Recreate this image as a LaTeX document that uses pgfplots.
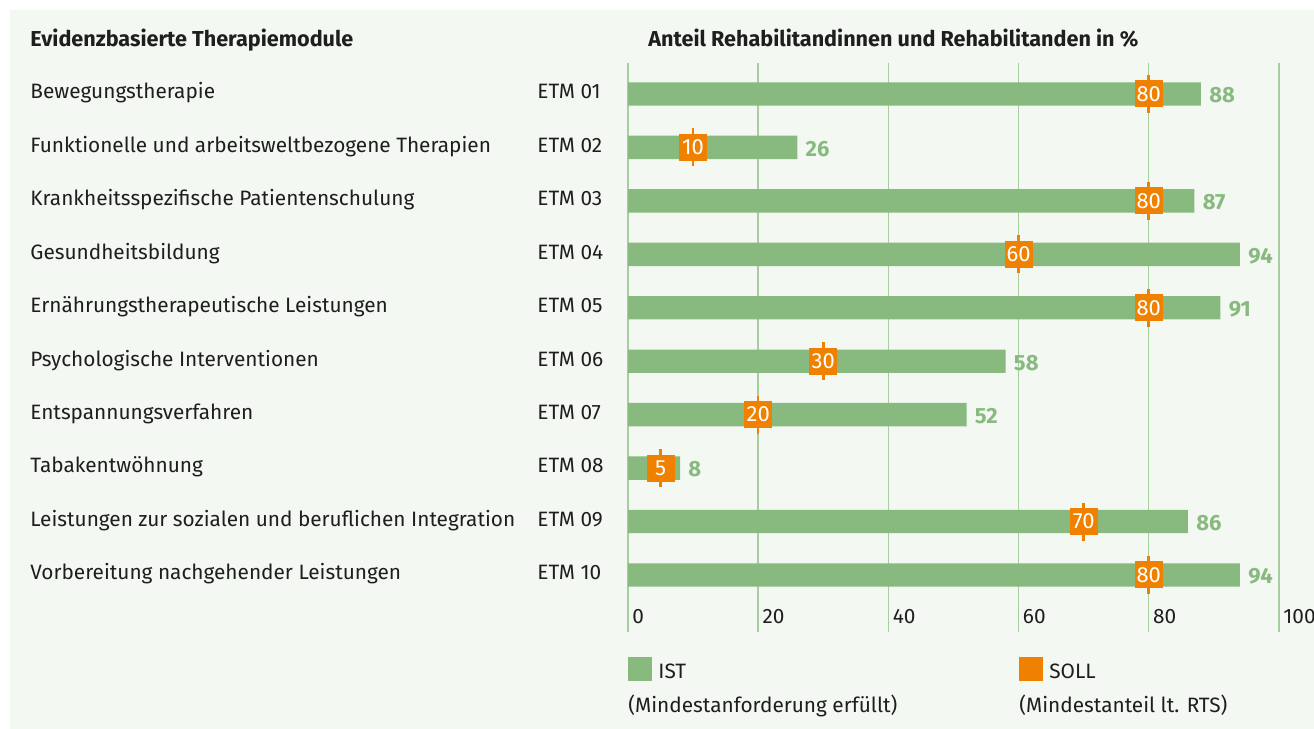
\documentclass[border=0pt]{standalone}
\usepackage{pgfplots}
\pgfplotsset{compat=1.18}
\usepackage{fontspec}
\setmainfont{Fira Sans}
\definecolor{bg}{HTML}{F3F8F2}
\definecolor{istgreen}{HTML}{88BA7F}
\definecolor{sollorange}{HTML}{F08100}
\definecolor{gridc}{HTML}{A8CEA0}
\definecolor{txt}{HTML}{1E1E1E}
\newcommand\bodyfont{\fontsize{10.4pt}{12pt}\selectfont}
\newcommand\numfont{\fontsize{11pt}{12pt}\selectfont}
\newcommand\headfont{\fontsize{10.8pt}{12pt}\selectfont\bfseries}
\begin{document}
\begin{tikzpicture}[font=\bodyfont, text=txt]
\fill[white] (0,0) rectangle (657pt,-364.5pt);
\fill[bg] (5pt,-5pt) rectangle (657pt,-364.5pt);
\begin{axis}[
  at={(314pt,-31.5pt)}, anchor=north west,
  x=3.255pt, y=26.72pt,
  xmin=0, xmax=100, ymin=-0.067, ymax=10.58,
  axis line style={draw=none},
  major tick length=0pt,
  xtick={0,20,40,60,80,100},
  xmajorgrids, grid style={gridc, line width=0.7pt},
  /pgf/number format/assume math mode=true,
  xticklabel style={anchor=base west, inner sep=0pt, xshift=2pt, yshift=4pt, text=txt, font=\bodyfont},
  ytick={1,...,10},
  yticklabels={
    {\makebox[253.5pt][l]{Vorbereitung nachgehender Leistungen}ETM 10},
    {\makebox[253.5pt][l]{Leistungen zur sozialen und beruflichen Integration}ETM 09},
    {\makebox[253.5pt][l]{Tabakentwöhnung}ETM 08},
    {\makebox[253.5pt][l]{Entspannungsverfahren}ETM 07},
    {\makebox[253.5pt][l]{Psychologische Interventionen}ETM 06},
    {\makebox[253.5pt][l]{Ernährungstherapeutische Leistungen}ETM 05},
    {\makebox[253.5pt][l]{Gesundheitsbildung}ETM 04},
    {\makebox[253.5pt][l]{Krankheitsspezifische Patientenschulung}ETM 03},
    {\makebox[253.5pt][l]{Funktionelle und arbeitsweltbezogene Therapien}ETM 02},
    {\makebox[253.5pt][l]{Bewegungstherapie}ETM 01}},
  yticklabel style={anchor=base west, inner sep=0pt, xshift=-299pt, yshift=-2.4pt, text=txt, font=\bodyfont},
  clip=false,
]
\addplot[xbar, bar width=11.7pt, bar shift=0pt, fill=istgreen, draw=none,
  point meta=x, nodes near coords,
  nodes near coords style={font=\numfont\bfseries, text=istgreen, anchor=base west, inner sep=0pt, xshift=4pt, yshift=-4.4pt}]
  coordinates {(94,1) (86,2) (8,3) (52,4) (58,5) (91,6) (94,7) (87,8) (26,9) (88,10)};
\addplot[only marks, mark=|, mark size=9.5pt, mark options={draw=sollorange, line width=1.3pt},
  point meta=x, nodes near coords,
  nodes near coords style={anchor=center, fill=sollorange, text=white, inner sep=0pt, minimum width=14pt, minimum height=13.5pt, font=\numfont}]
  coordinates {(80,1) (70,2) (5,3) (20,4) (30,5) (80,6) (60,7) (80,8) (10,9) (80,10)};
\end{axis}
% headers
\node[anchor=base west, inner sep=0pt, font=\headfont] at (15pt,-23pt) {Evidenzbasierte Therapiemodule};
\node[anchor=base west, inner sep=0pt, font=\headfont] at (324pt,-23pt) {Anteil Rehabilitandinnen und Rehabilitanden in \%};
% legend
\fill[istgreen] (314pt,-328.5pt) rectangle (326pt,-340.5pt);
\node[anchor=base west, inner sep=0pt] at (329pt,-339pt) {IST};
\node[anchor=base west, inner sep=0pt] at (314pt,-356pt) {(Mindestanforderung erfüllt)};
\fill[sollorange] (509.5pt,-328.5pt) rectangle (521.5pt,-340.5pt);
\node[anchor=base west, inner sep=0pt] at (524.5pt,-339pt) {SOLL};
\node[anchor=base west, inner sep=0pt] at (509.5pt,-356pt) {(Mindestanteil lt. RTS)};
\pgfresetboundingbox
\path[use as bounding box] (0,0) rectangle (657pt,-364.5pt);
\end{tikzpicture}
\end{document}
